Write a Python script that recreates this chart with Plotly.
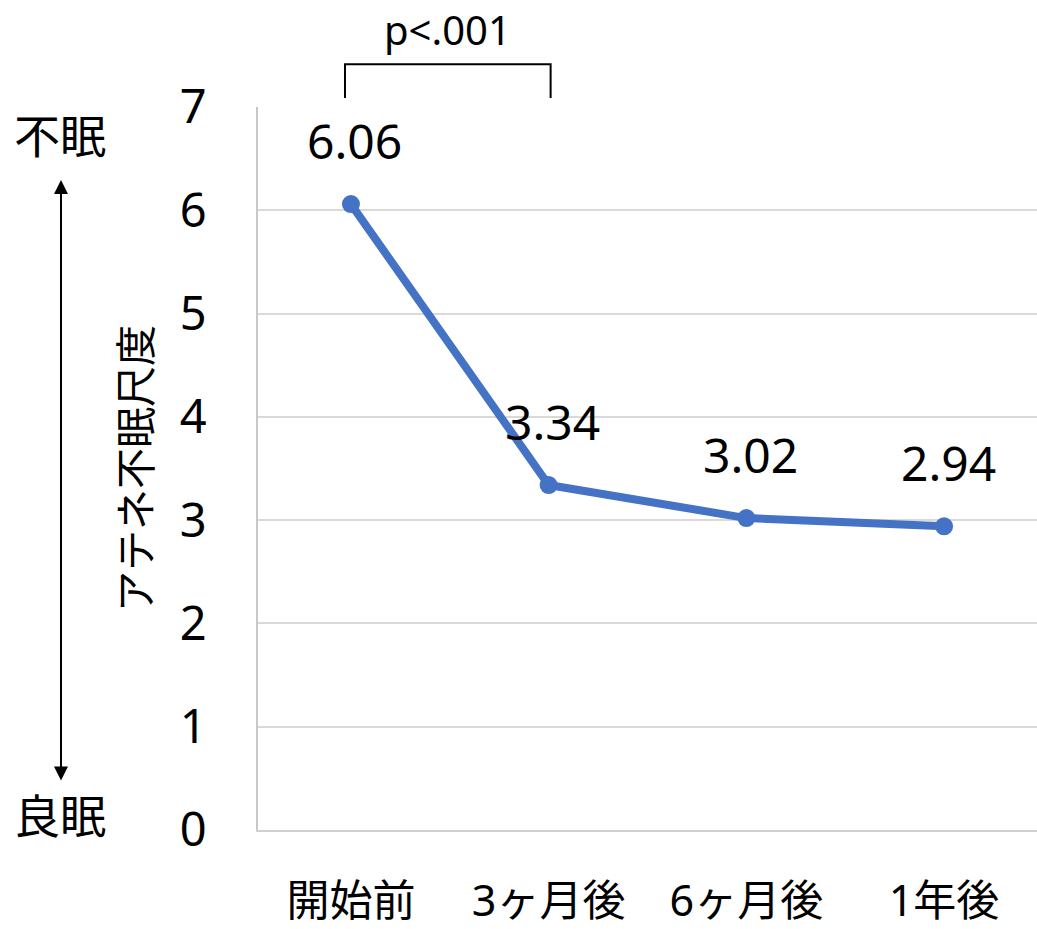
import plotly.graph_objects as go

# Athens Insomnia Scale scores over the follow-up period
periods = ["開始前", "3ヶ月後", "6ヶ月後", "1年後"]
scores = [6.06, 3.34, 3.02, 2.94]
y_ticks = [0, 1, 2, 3, 4, 5, 6, 7]

LATIN = "Noto Sans"
MIXED = "Noto Sans, Noto Sans CJK JP"
CJK = "Noto Sans CJK JP"
LINE_BLUE = "#4472C4"

fig = go.Figure()
fig.add_trace(go.Scatter(
    x=list(range(len(periods))),
    y=scores,
    mode="lines+markers",
    line=dict(color=LINE_BLUE, width=8),
    marker=dict(color=LINE_BLUE, size=18),
    hoverinfo="skip",
    showlegend=False,
    cliponaxis=False,
))

annotations = []
# value labels above each point
for i, v in enumerate(scores):
    annotations.append(dict(
        x=i, y=v, xref="x", yref="y",
        text=f"{v:.2f}", showarrow=False,
        xanchor="center", yanchor="middle",
        yshift=64, xshift=4,
        font=dict(family=LATIN, size=48, color="black"),
    ))

# significance label above the bracket
annotations.append(dict(
    x=0.49, y=1.107, xref="x", yref="paper",
    xanchor="center", yanchor="middle",
    text="p<.001", showarrow=False,
    font=dict(family=LATIN, size=40, color="black"),
))

# y axis title
annotations.append(dict(
    x=-0.161, y=0.50, xref="paper", yref="paper",
    xanchor="center", yanchor="middle",
    text="アテネ不眠尺度", textangle=-90, showarrow=False,
    font=dict(family=CJK, size=41, color="black"),
))

# direction labels and double-headed arrow
annotations.append(dict(
    x=-0.254, y=0.964, xref="paper", yref="paper",
    xanchor="center", yanchor="middle",
    text="不眠", showarrow=False,
    font=dict(family=CJK, size=46, color="black"),
))
annotations.append(dict(
    x=-0.254, y=0.024, xref="paper", yref="paper",
    xanchor="center", yanchor="middle",
    text="良眠", showarrow=False,
    font=dict(family=CJK, size=46, color="black"),
))
annotations.append(dict(
    x=-0.2529, y=0.899, xref="paper", yref="paper",
    ax=0, ay=602, axref="pixel", ayref="pixel",
    text="", showarrow=True,
    arrowhead=2, startarrowhead=2, arrowside="end+start",
    arrowsize=1.4, arrowwidth=2, arrowcolor="black",
))

shapes = [
    dict(type="path", xref="x", yref="paper",
         path="M -0.03,1.0124 L -0.03,1.0593 L 1.01,1.0593 L 1.01,1.0124",
         line=dict(color="black", width=2)),
]

fig.update_layout(
    width=1037, height=929,
    margin=dict(l=258, r=0, t=107, b=97),
    paper_bgcolor="white", plot_bgcolor="white",
    font=dict(family=MIXED, color="black"),
    annotations=annotations,
    shapes=shapes,
    xaxis=dict(
        range=[-0.47, 3.47],
        tickmode="array",
        tickvals=list(range(len(periods))),
        ticktext=periods,
        tickfont=dict(family=MIXED, size=43, color="black"),
        showgrid=False, zeroline=False,
        showline=True, linecolor="#d0d0d0", linewidth=2,
        ticks="outside", ticklen=32, tickcolor="rgba(0,0,0,0)",
    ),
    yaxis=dict(
        range=[0, 7],
        tickmode="array",
        tickvals=y_ticks,
        ticktext=[str(t) for t in y_ticks],
        tickfont=dict(family=LATIN, size=47, color="black"),
        showgrid=True, gridcolor="#d9d9d9", gridwidth=2,
        zeroline=False,
        showline=True, linecolor="#c8c8c8", linewidth=2,
        ticks="outside", ticklen=40, tickcolor="rgba(0,0,0,0)",
    ),
)

fig.write_html("out.html")
